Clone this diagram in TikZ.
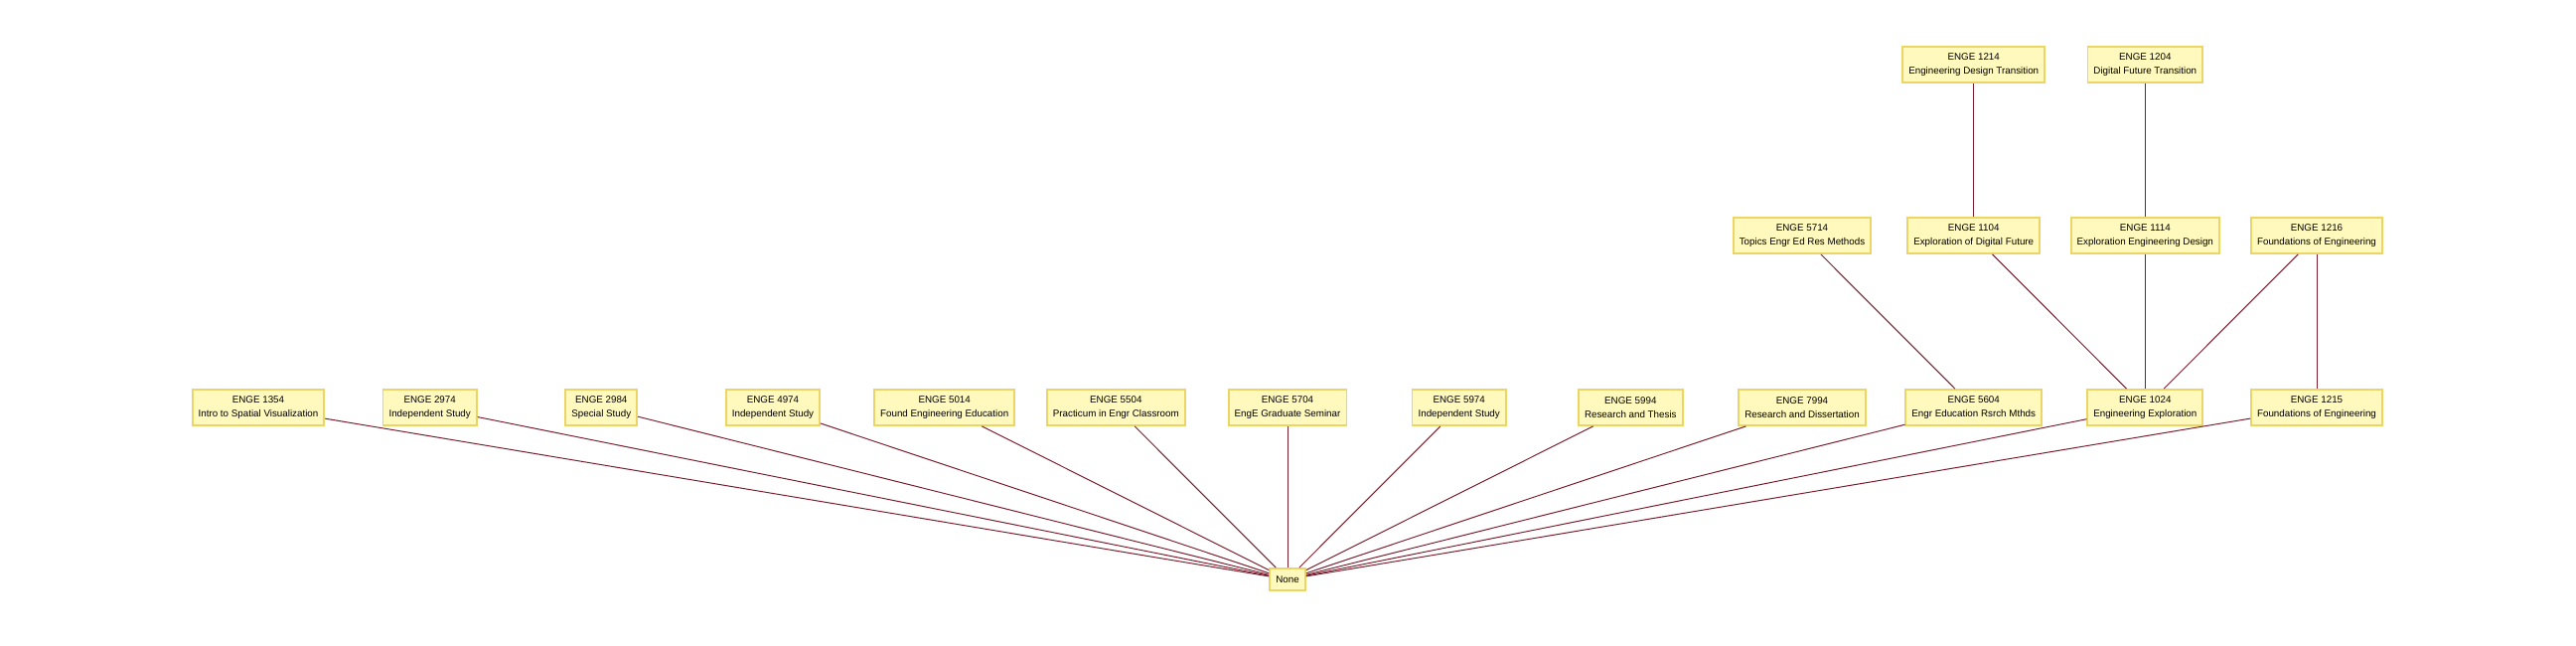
\documentclass[tikz,border=0pt]{standalone}
\usepackage{fontspec}
\setmainfont{Liberation Sans}
\usepackage{tikz}
\usetikzlibrary{positioning}
\definecolor{cgold}{HTML}{EDD565}
\definecolor{lightyellow}{HTML}{FFF9BE}
\definecolor{cmaroon}{HTML}{7B1E2E}

\tikzset{
  course/.style={draw=cgold, fill=lightyellow, line width=1.8pt, align=center,
    font=\fontsize{9.8}{14.5}\selectfont, inner xsep=6pt, inner ysep=3pt, minimum height=36pt},
  prereq/.style={draw=cmaroon, line width=1pt}
}

\begin{document}
\begin{tikzpicture}[x=1pt, y=-1pt]
  \useasboundingbox (0,0) rectangle (2593,649);

  % bottom row
  \node[course] (c1354) at (260,410)    {ENGE 1354\\Intro to Spatial Visualization};
  \node[course] (c2974) at (432.7,410)  {ENGE 2974\\Independent Study};
  \node[course] (c2984) at (605.3,410)  {ENGE 2984\\Special Study};
  \node[course] (c4974) at (778,410)    {ENGE 4974\\Independent Study};
  \node[course] (c5014) at (950.7,410)  {ENGE 5014\\Found Engineering Education};
  \node[course] (c5504) at (1123.3,410) {ENGE 5504\\Practicum in Engr Classroom};
  \node[course] (c5704) at (1296,410)   {ENGE 5704\\EngE Graduate Seminar};
  \node[course] (c5974) at (1468.7,410) {ENGE 5974\\Independent Study};
  \node[course] (c5994) at (1641.3,410) {ENGE 5994\\Research and Thesis};
  \node[course] (c7994) at (1814,410)   {ENGE 7994\\Research and Dissertation};
  \node[course] (c5604) at (1986.7,410) {ENGE 5604\\Engr Education Rsrch Mthds};
  \node[course] (c1024) at (2159.3,410) {ENGE 1024\\Engineering Exploration};
  \node[course] (c1215) at (2332,410)   {ENGE 1215\\Foundations of Engineering};

  % middle row
  \node[course] (c5714) at (1814,237)   {ENGE 5714\\Topics Engr Ed Res Methods};
  \node[course] (c1104) at (1986.7,237) {ENGE 1104\\Exploration of Digital Future};
  \node[course] (c1114) at (2159.3,237) {ENGE 1114\\Exploration Engineering Design};
  \node[course] (c1216) at (2332,237)   {ENGE 1216\\Foundations of Engineering};

  % top row
  \node[course] (c1214) at (1986.7,65)  {ENGE 1214\\Engineering Design Transition};
  \node[course] (c1204) at (2159.3,65)  {ENGE 1204\\Digital Future Transition};

  \node[course, minimum height=22pt, minimum width=36pt] (none) at (1296,583) {None};

  % connectors
  \foreach \c in {1354,2974,2984,4974,5014,5504,5704,5974,5994,7994,5604,1024,1215}
    \draw[prereq] (c\c) -- (none);
  \draw[prereq] (c5714) -- (c5604);
  \draw[prereq] (c1104) -- (c1024);
  \draw[prereq] (c1114) -- (c1024);
  \draw[prereq] (c1216) -- (c1024);
  \draw[prereq] (c1216) -- (c1215);
  \draw[prereq] (c1214) -- (c1104);
  \draw[prereq] (c1204) -- (c1114);
\end{tikzpicture}
\end{document}
